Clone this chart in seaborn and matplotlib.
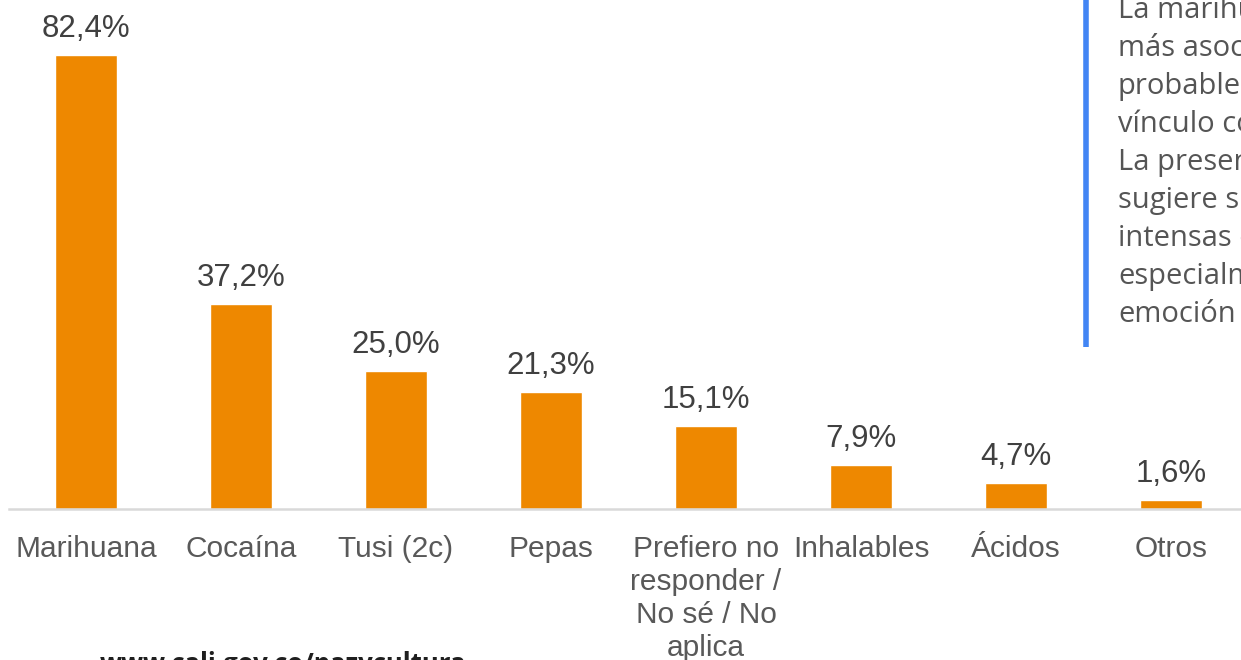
import numpy as np
import pandas as pd
import matplotlib
matplotlib.use("Agg")
import matplotlib.pyplot as plt
from matplotlib.lines import Line2D
import seaborn as sns

# data
categories = ['Marihuana', 'Cocaína', 'Tusi (2c)', 'Pepas',
              'Prefiero no\nresponder /\nNo sé / No\naplica',
              'Inhalables', 'Ácidos', 'Otros']
values = [82.4, 37.2, 25.0, 21.3, 15.1, 7.9, 4.7, 1.6]
value_labels = ['82,4%', '37,2%', '25,0%', '21,3%', '15,1%', '7,9%', '4,7%', '1,6%']

# side note (cut off by the slide crop)
note_lines = ['La marihuana', 'más asociada', 'probablemente', 'vínculo con',
              'La presencia', 'sugiere su', 'intensas en', 'especialmente', 'emoción']
url_text = 'www.cali.gov.co/pazycultura'

df = pd.DataFrame({'cat': categories, 'val': values})

sns.set_theme(style='white')
plt.rcParams['font.family'] = ['Liberation Sans', 'DejaVu Sans']

W, H = 1241, 660
fig = plt.figure(figsize=(W / 100, H / 100), dpi=100)
fig.patch.set_facecolor('white')

# axes placed in pixels: baseline at y=509, 155 px per category
ax = fig.add_axes([8.5 / W, 151 / H, 1240 / W, 496 / H])
ax.set_facecolor('none')
sns.barplot(data=df, x='cat', y='val', color='#EE8800', width=0.4,
            saturation=1, ax=ax)
ax.set_ylim(0, 90)
ax.set_xlim(-0.5, 7.5)

for i, (v, lab) in enumerate(zip(values, value_labels)):
    ax.annotate(lab, (i, v), xytext=(0, 8), textcoords='offset points',
                ha='center', va='bottom', fontsize=22.5, color='#404040')

for s in ['top', 'right', 'left']:
    ax.spines[s].set_visible(False)
ax.spines['bottom'].set_color('#d9d9d9')
ax.spines['bottom'].set_linewidth(1.8)
ax.set_yticks([])
ax.set_xlabel('')
ax.set_ylabel('')
ax.tick_params(axis='x', length=0, pad=19, labelsize=21.5, labelcolor='#595959')
for t in ax.get_xticklabels():
    t.set_multialignment('center')
    t.set_linespacing(1.22)

# blue accent bar and note text
fig.add_artist(Line2D([1086 / W, 1086 / W], [1, 1 - 347 / H],
                      color='#4285F4', lw=4, solid_capstyle='butt'))
for k, line in enumerate(note_lines):
    y_px = 18 + 38 * k
    fig.text(1118 / W, 1 - y_px / H, line, fontsize=21, color='#555555',
             family=['Open Sans', 'DejaVu Sans'], va='baseline', ha='left')

fig.text(100 / W, 1 - 651 / H, url_text, fontsize=18.5, color='#1f1f1f',
         fontweight='bold', family=['Open Sans', 'DejaVu Sans'],
         va='top', ha='left')

fig.savefig('out.png', dpi=100)
